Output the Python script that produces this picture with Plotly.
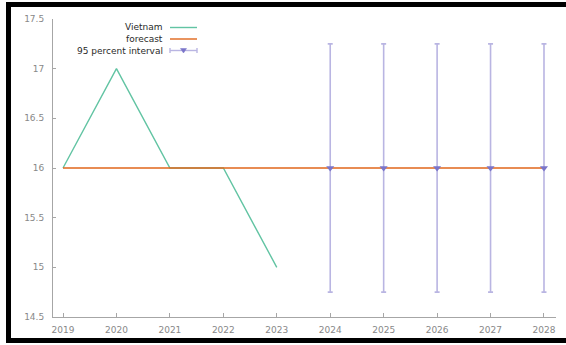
import plotly.graph_objects as go

# Observed series and forecast
years = [2019, 2020, 2021, 2022, 2023, 2024, 2025, 2026, 2027, 2028]
obs_years = [2019, 2020, 2021, 2022, 2023]
vietnam = [16, 17, 16, 16, 15]
forecast = [16, 16, 16, 16, 16, 16, 16, 16, 16, 16]
fc_years = [2024, 2025, 2026, 2027, 2028]
fc_mid = [16, 16, 16, 16, 16]
fc_halfwidth = [1.25, 1.25, 1.25, 1.25, 1.25]
y_ticks = [14.5, 15, 15.5, 16, 16.5, 17, 17.5]

GREEN = "#62c4a3"
ORANGE = "#e0661a"
PURPLE_BAR = "#b9b5e2"
PURPLE_MARK = "#7a75c9"
AXIS = "#a6a6a6"
FONT = "DejaVu Sans"

W, H = 566, 345
L, R, T, B = 53, 10, 19, 28
pw, ph = W - L - R, H - T - B


def px(x):
    return (x - L) / pw


def py(y):
    return (H - B - y) / ph


fig = go.Figure()
fig.add_trace(go.Scatter(x=obs_years, y=vietnam, mode="lines",
                         line=dict(color=GREEN, width=1.4), showlegend=False))
fig.add_trace(go.Scatter(x=years, y=forecast, mode="lines",
                         line=dict(color=ORANGE, width=1.4), showlegend=False))
fig.add_trace(go.Scatter(
    x=fc_years, y=fc_mid, mode="markers",
    marker=dict(symbol="triangle-down", size=7, color=PURPLE_MARK),
    error_y=dict(type="data", array=fc_halfwidth, color=PURPLE_BAR,
                 thickness=1.6, width=2.5),
    showlegend=False))

# Key in the upper left: right-aligned labels with samples after them
key_x_text = px(165)
key_x0, key_x1 = px(170), px(197)
key_rows = [27.5, 39.0, 50.5]
labels = ["Vietnam", "forecast", "95 percent interval"]
shapes = []
annotations = []
for lab, yy in zip(labels, key_rows):
    annotations.append(dict(x=key_x_text, y=py(yy), xref="paper", yref="paper",
                            text=lab, showarrow=False, xanchor="right",
                            yanchor="middle",
                            font=dict(family=FONT, size=9, color="#2a2a2a")))
shapes.append(dict(type="line", xref="paper", yref="paper", x0=key_x0, x1=key_x1,
                   y0=py(key_rows[0]), y1=py(key_rows[0]),
                   line=dict(color=GREEN, width=1.4)))
shapes.append(dict(type="line", xref="paper", yref="paper", x0=key_x0, x1=key_x1,
                   y0=py(key_rows[1]), y1=py(key_rows[1]),
                   line=dict(color=ORANGE, width=1.4)))
yi = key_rows[2]
shapes.append(dict(type="line", xref="paper", yref="paper", x0=key_x0, x1=key_x1,
                   y0=py(yi), y1=py(yi), line=dict(color=PURPLE_BAR, width=1.4)))
for xe in (170, 197):
    shapes.append(dict(type="line", xref="paper", yref="paper", x0=px(xe), x1=px(xe),
                       y0=py(yi - 2.5), y1=py(yi + 2.5),
                       line=dict(color=PURPLE_BAR, width=1.4)))
cx = 183.5
shapes.append(dict(type="path", xref="paper", yref="paper",
                   path=f"M {px(cx - 3)} {py(yi - 2)} L {px(cx + 3)} {py(yi - 2)} "
                        f"L {px(cx)} {py(yi + 2.5)} Z",
                   fillcolor=PURPLE_MARK, line=dict(color=PURPLE_MARK, width=0.5)))

# Heavy black frame: left, top and bottom edges (runs off the right side)
frame_left, frame_top, frame_bottom, frame_right = 8.5, 4.5, 340.5, 640
for x0, y0, x1, y1 in [
    (frame_left, frame_top, frame_right, frame_top),
    (frame_left, frame_bottom, frame_right, frame_bottom),
    (frame_left, frame_top - 2.5, frame_left, frame_bottom + 2.5),
]:
    shapes.append(dict(type="line", xref="paper", yref="paper",
                       x0=px(x0), y0=py(y0), x1=px(x1), y1=py(y1),
                       line=dict(color="black", width=5), layer="above"))

fig.update_layout(
    width=W, height=H,
    margin=dict(l=L, r=R, t=T, b=B, pad=0),
    paper_bgcolor="white", plot_bgcolor="white",
    font=dict(family=FONT, size=9, color="#888888"),
    showlegend=False,
    shapes=shapes, annotations=annotations,
)
fig.update_xaxes(range=[2019 - 10 / 53.4, 2028 + 12 / 53.4],
                 tickvals=years, ticktext=[str(y) for y in years],
                 showgrid=False, zeroline=False, showline=True, linecolor=AXIS,
                 linewidth=1, ticks="inside", ticklen=4, tickcolor=AXIS,
                 tickfont=dict(family=FONT, size=9, color="#888888"),
                 ticklabelstandoff=4)
fig.update_yaxes(range=[14.5, 17.5], tickvals=y_ticks,
                 ticktext=[f"{v:g}" for v in y_ticks],
                 showgrid=False, zeroline=False, showline=True, linecolor=AXIS,
                 linewidth=1, ticks="inside", ticklen=3, tickcolor=AXIS,
                 tickfont=dict(family=FONT, size=9, color="#888888"),
                 ticklabelstandoff=6)

fig.write_html("out.html")
